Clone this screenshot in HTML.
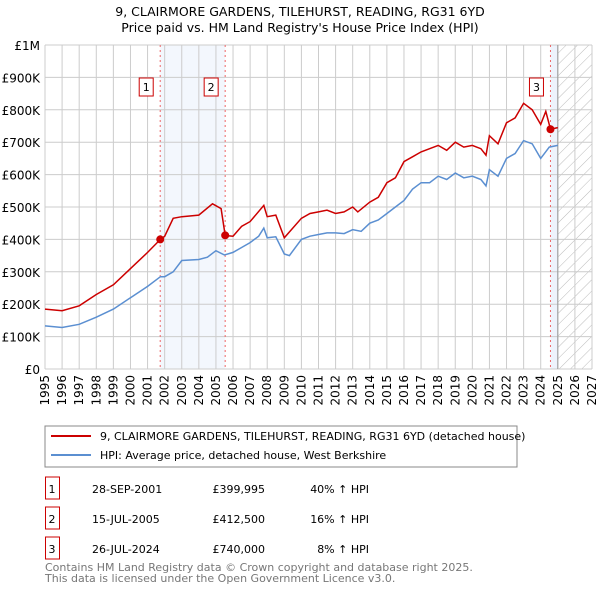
<!DOCTYPE html>
<html><head><meta charset="utf-8"><style>
body{margin:0;background:#fff;font-family:"Liberation Sans","DejaVu Sans",sans-serif;}
svg text{font-family:"DejaVu Sans","Liberation Sans",sans-serif;}
</style></head><body>
<svg id="c" width="600" height="590" xmlns="http://www.w3.org/2000/svg">
<defs><pattern id="hatch" width="8" height="8" patternUnits="userSpaceOnUse" patternTransform="rotate(45)"><line x1="0" y1="0" x2="0" y2="8" stroke="#bbb" stroke-width="1"/></pattern></defs>
<text x="300" y="16" text-anchor="middle" font-size="12.5" fill="#000">9, CLAIRMORE GARDENS, TILEHURST, READING, RG31 6YD</text>
<text x="300" y="32" text-anchor="middle" font-size="12.5" fill="#000">Price paid vs. HM Land Registry's House Price Index (HPI)</text>
<g id="plot"></g>
<rect x="45" y="426" width="472" height="41" fill="none" stroke="#888"/>
<line x1="51" y1="436" x2="91" y2="436" stroke="#cc0000" stroke-width="2"/>
<text x="100" y="440" font-size="11">9, CLAIRMORE GARDENS, TILEHURST, READING, RG31 6YD (detached house)</text>
<line x1="51" y1="455" x2="91" y2="455" stroke="#5b8fd1" stroke-width="2"/>
<text x="100" y="459" font-size="11">HPI: Average price, detached house, West Berkshire</text>
<g id="table" font-size="11"></g>
<text x="45" y="571" font-size="11" fill="#777">Contains HM Land Registry data © Crown copyright and database right 2025.</text>
<text x="45" y="582" font-size="11" fill="#777">This data is licensed under the Open Government Licence v3.0.</text>
</svg>
<script>
const hpiYears=[1995,1996,1997,1998,1999,2000,2001,2001.75,2002,2002.5,2003,2004,2004.5,2005,2005.5,2006,2006.5,2007,2007.5,2007.8,2008,2008.5,2009,2009.3,2010,2010.5,2011,2011.5,2012,2012.5,2013,2013.5,2014,2014.5,2015,2015.5,2016,2016.5,2017,2017.5,2018,2018.5,2019,2019.5,2020,2020.5,2020.8,2021,2021.5,2022,2022.5,2023,2023.5,2024,2024.5,2025];
const hpiValues=[133,128,138,160,185,220,255,285,285,300,335,338,345,365,352,360,375,390,410,435,405,408,355,350,400,410,415,420,420,418,430,425,450,460,480,500,520,555,575,575,595,585,605,590,595,585,565,615,595,650,665,705,695,650,685,690];
const priceYears=[1995,1996,1997,1998,1999,2000,2001,2001.75,2002,2002.5,2003,2004,2004.8,2005.3,2005.54,2006,2006.5,2007,2007.8,2008,2008.5,2009,2010,2010.5,2011,2011.5,2012,2012.5,2013,2013.3,2014,2014.5,2015,2015.5,2016,2016.5,2017,2017.5,2018,2018.5,2019,2019.5,2020,2020.5,2020.8,2021,2021.5,2022,2022.5,2023,2023.5,2024,2024.3,2024.57,2025];
const priceValues=[185,180,195,230,260,310,360,400,410,465,470,475,510,495,412,410,440,455,505,470,475,405,465,480,485,490,480,485,500,485,515,530,575,590,640,655,670,680,690,675,700,685,690,680,660,720,695,760,775,820,800,755,795,740,745];
const saleYears=[2001.74,2005.54,2024.57];
const saleValues=[400,412.5,740];
const saleLabels=["1","2","3"];
const saleDates=["28-SEP-2001","15-JUL-2005","26-JUL-2024"];
const salePrices=["£399,995","£412,500","£740,000"];
const saleHpi=["40% ↑ HPI","16% ↑ HPI","8% ↑ HPI"];
const yTicks=[0,100,200,300,400,500,600,700,800,900,1000];
const yTickLabels=["£0","£100K","£200K","£300K","£400K","£500K","£600K","£700K","£800K","£900K","£1M"];
const xTicks=[1995,1996,1997,1998,1999,2000,2001,2002,2003,2004,2005,2006,2007,2008,2009,2010,2011,2012,2013,2014,2015,2016,2017,2018,2019,2020,2021,2022,2023,2024,2025,2026,2027];

const X0=45,X1=592,Y0=369,Y1=45;
const xs=t=>X0+(t-1995)/(2027-1995)*(X1-X0);
const ys=v=>Y0-v/1000*(Y0-Y1);
const NS="http://www.w3.org/2000/svg";
const g=document.getElementById('plot');
function mk(tag,attrs,parent){const e=document.createElementNS(NS,tag);for(const k in attrs)e.setAttribute(k,attrs[k]);(parent||g).appendChild(e);return e;}
// shading
let r=mk('rect',{x:xs(saleYears[0]),y:Y1,width:xs(saleYears[1])-xs(saleYears[0]),height:Y0-Y1,fill:'#eef3fc',opacity:0.7});


r=mk('rect',{x:xs(saleYears[2]),y:Y1,width:xs(2025)-xs(saleYears[2]),height:Y0-Y1,fill:'#eef3fc'});


r=mk('rect',{x:xs(2025),y:Y1,width:X1-xs(2025),height:Y0-Y1,fill:'url(#hatch)'});


// grid
xTicks.forEach(t=>{mk('line',{x1:xs(t),y1:Y1,x2:xs(t),y2:Y0,stroke:'#ccc','stroke-width':1});
 const tx=mk('text',{x:0,y:0,'font-size':12,'text-anchor':'end',transform:`translate(${xs(t)+4},${Y0+6}) rotate(-90)`});tx.textContent=t;
 
 });
yTicks.forEach((v,i)=>{mk('line',{x1:X0,y1:ys(v),x2:X1,y2:ys(v),stroke:'#ccc','stroke-width':1});
 const tx=mk('text',{x:X0-5,y:ys(v)+5,'font-size':12,'text-anchor':'end'});tx.textContent=yTickLabels[i];
 
 });
mk('line',{x1:xs(2025),y1:Y1,x2:xs(2025),y2:Y0,stroke:'#999','stroke-width':1});
// sale vlines
saleYears.forEach((t,i)=>{const l=mk('line',{x1:xs(t),y1:Y1,x2:xs(t),y2:Y0,stroke:'#e66','stroke-width':1,'stroke-dasharray':'2,3'});
 
 
 const bx=mk('rect',{x:xs(t)-21,y:78,width:14,height:18,fill:'#fff',stroke:'#c00'});
 
 
 const tx=mk('text',{x:xs(t)-14,y:91,'font-size':11,'text-anchor':'middle'});tx.textContent=saleLabels[i];});
function line(xa,va,col,name){const p=mk('path',{d:xa.map((t,i)=>(i?'L':'M')+xs(t).toFixed(1)+','+ys(va[i]).toFixed(1)).join(''),fill:'none',stroke:col,'stroke-width':1.5});
 
 }
line(hpiYears,hpiValues,'#5b8fd1','hpi-line');
line(priceYears,priceValues,'#cc0000','price-line');
saleYears.forEach((t,i)=>{const c=mk('circle',{cx:xs(t),cy:ys(saleValues[i]),r:4,fill:'#cc0000'});
 
 });
// table
const tb=document.getElementById('table');
saleLabels.forEach((s,i)=>{const y=489+i*30;
 const b=mk('rect',{x:45.5,y:y-12,width:14,height:22,fill:'#fff',stroke:'#c00'},tb);
 
 
 [[52,s,'middle'],[92,saleDates[i],'start'],[265,salePrices[i],'end'],[369,saleHpi[i],'end']].forEach(([x,txt,a])=>{const t=mk('text',{x:x,y:y+4,'text-anchor':a},tb);t.textContent=txt;
  
  });});
</script>
</body></html>
